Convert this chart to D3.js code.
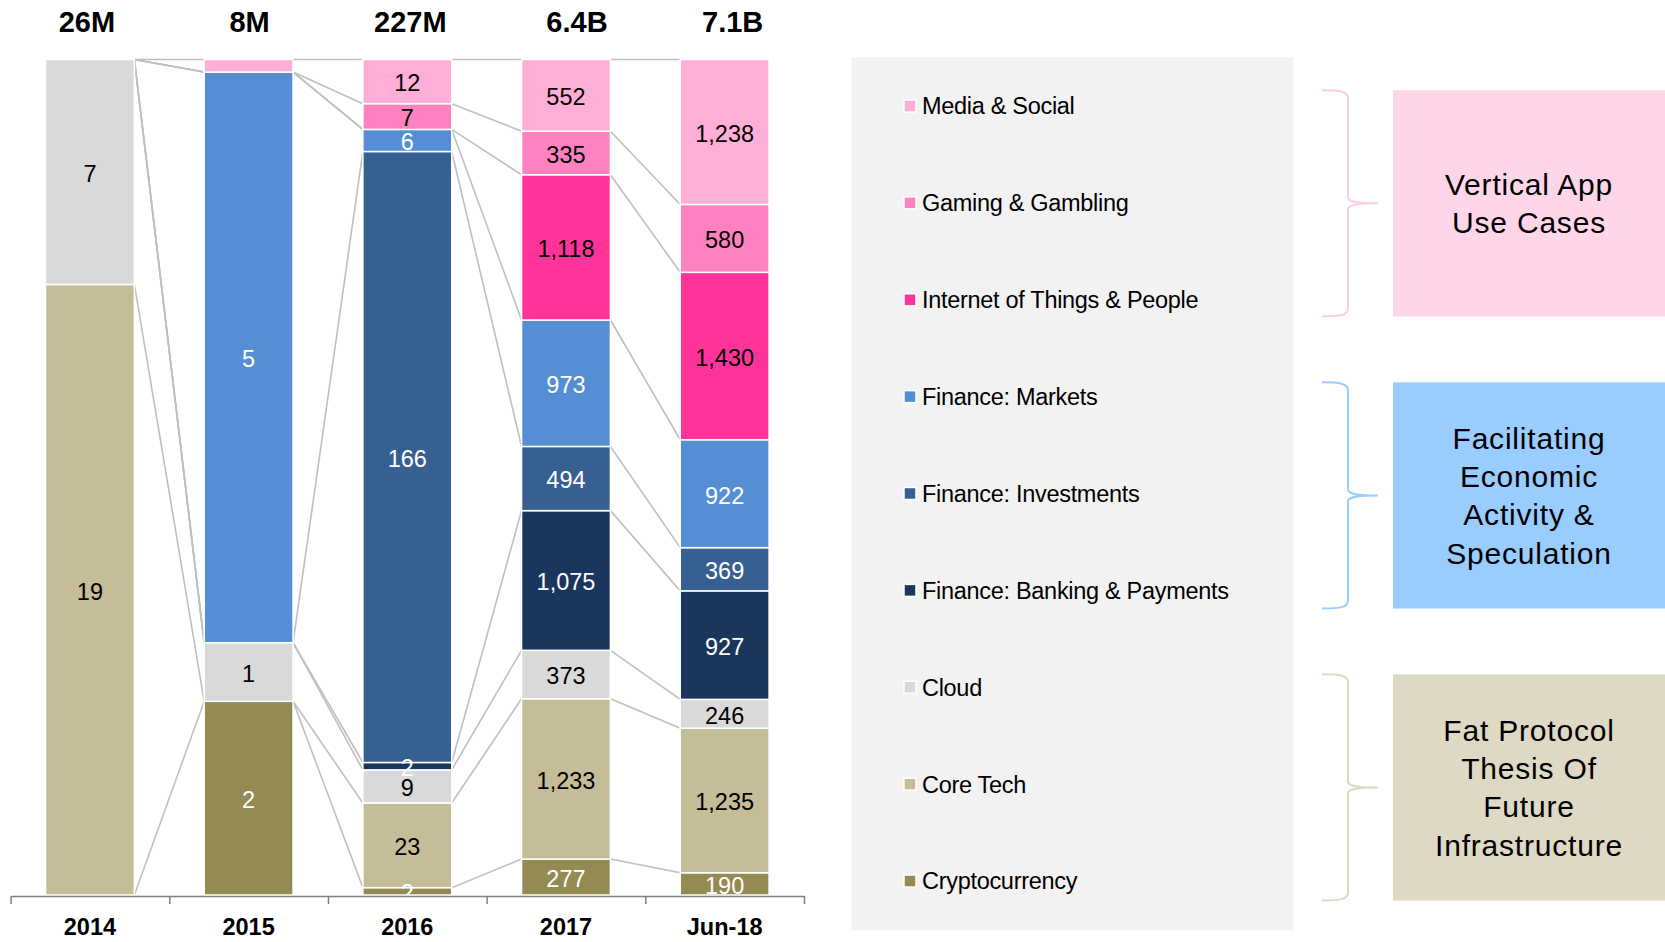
<!DOCTYPE html>
<html>
<head>
<meta charset="utf-8">
<script src="https://cdn.jsdelivr.net/npm/d3@7"></script>
<style>
  html, body { margin: 0; padding: 0; background: #fff; }
  svg { display: block; font-family: "Liberation Sans", Arial, sans-serif; }
</style>
</head>
<body>
<svg width="1665" height="942"></svg>
<script>
const periods = ['2014', '2015', '2016', '2017', 'Jun-18'];
const totals = ['26M', '8M', '227M', '6.4B', '7.1B'];

// segment values per period (millions)
const media = [0, 0.12, 12, 552, 1238];
const gaming = [0, 0, 7, 335, 580];
const iot = [0, 0, 0, 1118, 1430];
const markets = [0, 5.45, 6, 973, 922];
const investments = [0, 0, 166, 494, 369];
const banking = [0, 0, 2, 1075, 927];
const cloud = [7, 0.56, 9, 373, 246];
const coreTech = [19, 0, 23, 1233, 1235];
const crypto = [0, 1.85, 2, 277, 190];

// legend order, top to bottom
const seriesNames = ['Media & Social', 'Gaming & Gambling', 'Internet of Things & People',
  'Finance: Markets', 'Finance: Investments', 'Finance: Banking & Payments',
  'Cloud', 'Core Tech', 'Cryptocurrency'];
const seriesValues = [media, gaming, iot, markets, investments, banking, cloud, coreTech, crypto];
const seriesColors = ['#FFAED7', '#FF82C0', '#FF3399', '#558ED5', '#376092', '#1B365D',
  '#D9D9D9', '#C4BD97', '#948A54'];
const whiteLabel = ['Finance: Markets', 'Finance: Investments', 'Finance: Banking & Payments', 'Cryptocurrency'];

const groups = [
  { lines: ['Vertical App', 'Use Cases'], fill: '#FFD5EA', brace: '#FFCCE5' },
  { lines: ['Facilitating', 'Economic', 'Activity &', 'Speculation'], fill: '#99CCFF', brace: '#99CCFF' },
  { lines: ['Fat Protocol', 'Thesis Of', 'Future', 'Infrastructure'], fill: '#DDD9C4', brace: '#DDD9C4' },
];

const svg = d3.select('svg');

const rows = periods.map((p, i) => {
  const row = { period: p };
  seriesNames.forEach((s, j) => { row[s] = seriesValues[j][i]; });
  return row;
});

// Excel stacks the first series at the bottom
const stackKeys = seriesNames.slice().reverse();
const stacked = d3.stack().keys(stackKeys).offset(d3.stackOffsetExpand)(rows);

const x = d3.scaleBand().domain(periods).range([10.6, 804]).paddingInner(0.44).paddingOuter(0.22);
const y = d3.scaleLinear().domain([0, 1]).range([895, 59.5]);
const color = d3.scaleOrdinal().domain(seriesNames).range(seriesColors);
const bw = x.bandwidth();

svg.append('defs').append('clipPath').attr('id', 'plotclip')
  .append('rect').attr('x', 0).attr('y', 0).attr('width', 820).attr('height', 895);

// series lines between columns
const links = [];
stacked.forEach((layer) => {
  for (let i = 0; i < periods.length - 1; i++) {
    links.push({
      x1: x(periods[i]) + bw, y1: y(layer[i][1]),
      x2: x(periods[i + 1]), y2: y(layer[i + 1][1]),
    });
  }
});
svg.append('g').selectAll('line').data(links).join('line')
  .attr('x1', d => d.x1).attr('y1', d => d.y1)
  .attr('x2', d => d.x2).attr('y2', d => d.y2)
  .attr('stroke', '#BFBFBF').attr('stroke-width', 1.6);

// bars
const layers = svg.append('g').selectAll('g').data(stacked).join('g')
  .attr('fill', d => color(d.key));
layers.selectAll('rect').data(d => d.map(v => ({ key: d.key, v }))).join('rect')
  .attr('x', d => x(d.v.data.period))
  .attr('y', d => y(d.v[1]))
  .attr('width', bw)
  .attr('height', d => Math.max(0, y(d.v[0]) - y(d.v[1])))
  .attr('stroke', '#fff').attr('stroke-width', d => (d.v[1] - d.v[0] > 0 ? 1.5 : 0));

// segment labels
const fmt = d3.format(',.0f');
const labelData = [];
stacked.forEach((layer) => {
  layer.forEach((v) => {
    const val = v.data[layer.key];
    if (val >= 0.5) labelData.push({ key: layer.key, v, val });
  });
});
svg.append('g').attr('clip-path', 'url(#plotclip)')
  .selectAll('text').data(labelData).join('text')
  .attr('x', d => x(d.v.data.period) + bw / 2)
  .attr('y', d => (y(d.v[0]) + y(d.v[1])) / 2)
  .attr('dy', '0.42em')
  .attr('text-anchor', 'middle')
  .attr('font-size', 23.5)
  .attr('fill', d => (whiteLabel.includes(d.key) ? '#fff' : '#000'))
  .text(d => fmt(d.val));

// totals on top (text boxes sit a little off the bar centres in the original)
const totalShift = [-3, 1, 3, 11, 8];
svg.append('g').selectAll('text').data(periods).join('text')
  .attr('x', (d, i) => x(d) + bw / 2 + totalShift[i])
  .attr('y', 22)
  .attr('dy', '0.36em')
  .attr('text-anchor', 'middle')
  .attr('font-size', 29).attr('font-weight', 'bold')
  .text((d, i) => totals[i]);

// axis with ticks at band boundaries
const tickScale = d3.scaleLinear().domain([0, periods.length]).range([10.6, 804]);
const axisG = svg.append('g').attr('transform', 'translate(0,896)')
  .call(d3.axisBottom(tickScale).ticks(periods.length).tickFormat('').tickSize(8).tickSizeOuter(0));
axisG.selectAll('path, line').attr('stroke', '#808080').attr('stroke-width', 1.5);

svg.append('g').selectAll('text').data(periods).join('text')
  .attr('x', d => x(d) + bw / 2)
  .attr('y', 927)
  .attr('dy', '0.36em')
  .attr('text-anchor', 'middle')
  .attr('font-size', 23.5).attr('font-weight', 'bold')
  .text(d => d);

// legend panel
svg.append('rect').attr('x', 851.6).attr('y', 57.3).attr('width', 441.8).attr('height', 873)
  .attr('fill', '#F2F2F2');
const legendY = d3.scalePoint().domain(seriesNames).range([106, 881]);
const legend = svg.append('g').selectAll('g').data(seriesNames).join('g')
  .attr('transform', d => `translate(904,${legendY(d)})`);
legend.append('rect').attr('x', 0).attr('y', -6).attr('width', 12).attr('height', 12)
  .attr('fill', d => color(d)).attr('stroke', '#fff').attr('stroke-width', 1.5);
legend.append('text').attr('x', 18).attr('dy', '0.36em')
  .attr('font-size', 23.5).attr('letter-spacing', -0.3)
  .text(d => d);

// group boxes and braces
const groupY = [[90.3, 316.4], [382.3, 608.5], [674.3, 900.5]];
groups.forEach((g, i) => {
  const [top, bottom] = groupY[i];
  const mid = (top + bottom) / 2;
  svg.append('rect').attr('x', 1393).attr('y', top).attr('width', 272).attr('height', bottom - top)
    .attr('fill', g.fill);

  const p = d3.path();
  p.moveTo(1322, top);
  p.bezierCurveTo(1340, top, 1348, top + 1, 1348, top + 8);
  p.lineTo(1348, mid - 6);
  p.bezierCurveTo(1348, mid - 1, 1360, mid, 1378, mid);
  p.moveTo(1378, mid);
  p.bezierCurveTo(1360, mid, 1348, mid + 1, 1348, mid + 6);
  p.lineTo(1348, bottom - 8);
  p.bezierCurveTo(1348, bottom - 1, 1340, bottom, 1322, bottom);
  svg.append('path').attr('d', p.toString()).attr('fill', 'none')
    .attr('stroke', g.brace).attr('stroke-width', 2);

  const lh = 38.2;
  const t = svg.append('text').attr('text-anchor', 'middle')
    .attr('font-size', 30).attr('letter-spacing', 0.8);
  g.lines.forEach((line, k) => {
    t.append('tspan').attr('x', 1529)
      .attr('y', mid + (k - (g.lines.length - 1) / 2) * lh)
      .attr('dy', '0.36em')
      .text(line);
  });
});
</script>
</body>
</html>
